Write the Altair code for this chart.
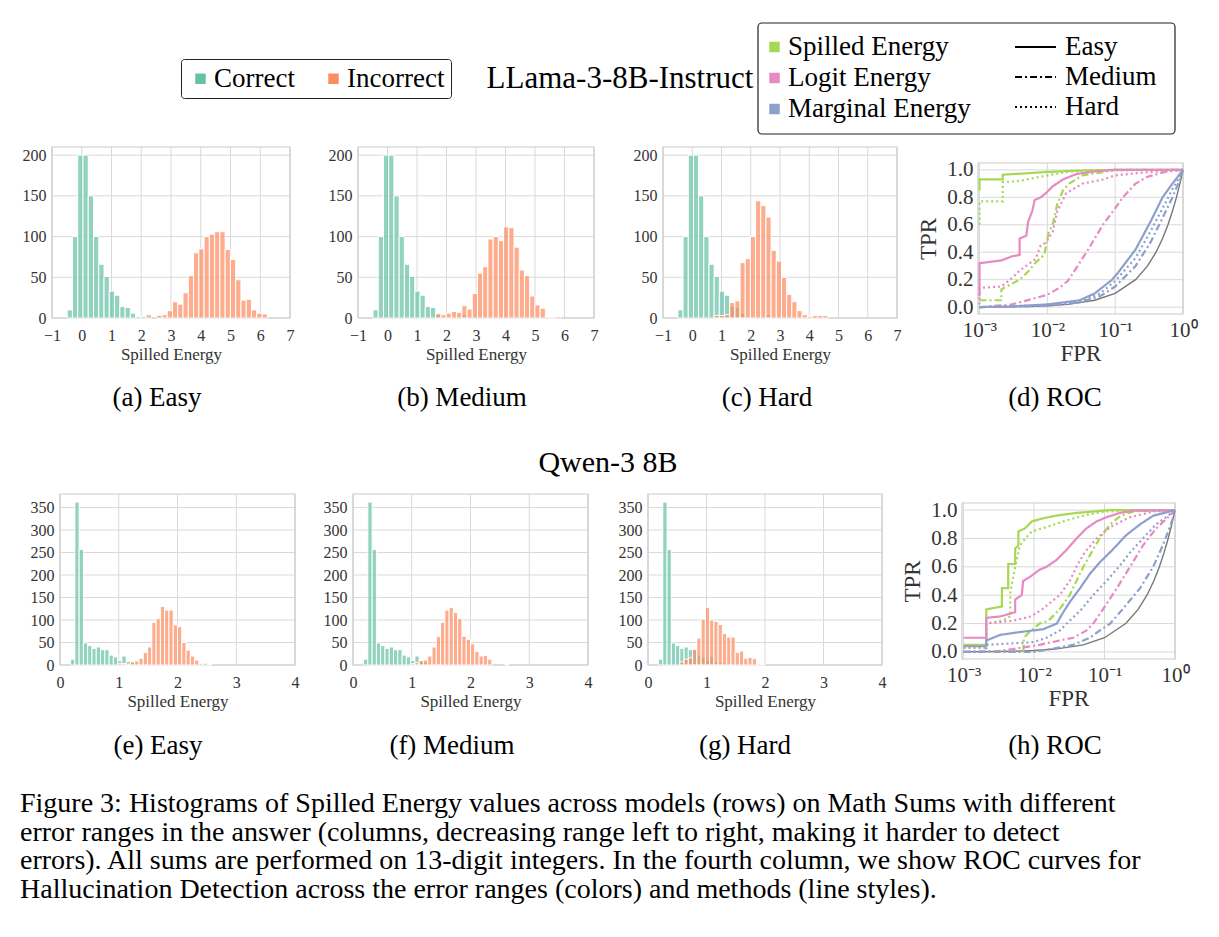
import altair as alt
import pandas as pd

SERIF = "Liberation Serif"
GREEN_HIST, ORANGE_HIST = "#66c2a5", "#fc8d62"
SPILLED_C, LOGIT_C, MARGINAL_C = "#a6d854", "#e78ac3", "#8da0cb"
GRID_C, FRAME_C, LABEL_C = "#d9d9d9", "#cccccc", "#333333"

# ---------------- histogram counts (shared bin grid per model) ----------------
LLAMA_BIN_START, LLAMA_BIN_WIDTH = -0.49, 0.177
QWEN_BIN_START, QWEN_BIN_WIDTH = 0.18, 0.0728

llama_correct = [10, 100, 200, 200, 150, 100, 66, 51, 33, 28, 14, 13, 6, 2, 2, 0, 0, 4]
llama_incorrect_easy = [0, 0, 0, 0, 0, 0, 0, 0, 0, 0, 0, 0, 0, 0, 0,
                        4, 0, 3, 4, 9, 20, 17, 31, 52, 80, 85, 100, 103, 106, 106,
                        84, 72, 47, 22, 23, 10, 6, 5]
llama_incorrect_medium = [0, 0, 0, 0, 0, 0, 0, 0, 0, 0, 0, 0,
                          5, 4, 6, 8, 7, 15, 11, 30, 55, 63, 97, 100, 95, 112, 111,
                          87, 59, 52, 27, 16, 12, 1, 1, 2]
llama_incorrect_hard = [0, 0, 0, 0, 0, 0, 0,
                        3, 3, 4, 19, 21, 68, 73, 100, 144, 138, 124, 83, 70, 50, 29,
                        20, 9, 4, 2, 3, 3, 3]

qwen_correct = [13, 362, 257, 49, 43, 37, 40, 34, 34, 22, 18, 10, 20, 8, 6, 4, 2, 1]
qwen_incorrect_easy = [0, 0, 0, 0, 0, 0, 0, 0, 0, 0, 0,
                       4, 3, 2, 7, 9, 15, 28, 40, 95, 103, 130, 122, 122, 89, 85,
                       50, 33, 20, 11, 3, 4, 1]
qwen_incorrect_medium = [0, 0, 0, 0, 0, 0, 0, 0, 0, 0, 0,
                         3, 5, 10, 11, 20, 40, 63, 95, 122, 128, 117, 103, 64, 57,
                         47, 30, 20, 21, 13, 0, 0, 0, 1]
qwen_incorrect_hard = [0, 0, 0, 0, 0,
                       7, 13, 16, 35, 60, 102, 128, 100, 97, 90, 70, 62, 62, 28, 31,
                       15, 17, 14, 2, 1]

LLAMA_X_TICKS = [-1, 0, 1, 2, 3, 4, 5, 6, 7]
LLAMA_Y_TICKS = [0, 50, 100, 150, 200]
QWEN_X_TICKS = [0, 1, 2, 3, 4]
QWEN_Y_TICKS = [0, 50, 100, 150, 200, 250, 300, 350]

# ---------------- ROC curves: (FPR, TPR) points ----------------
llama_spilled_easy = [(0.001, 0.85), (0.001, 0.93), (0.0022, 0.93), (0.0022, 0.965), (0.005, 0.975),
                      (0.01, 0.985), (0.03, 0.995), (0.1, 1.0), (1.0, 1.0)]
llama_spilled_medium = [(0.001, 0.05), (0.0021, 0.05), (0.0021, 0.13), (0.0039, 0.2), (0.005, 0.25),
                        (0.0069, 0.33), (0.009, 0.38), (0.0105, 0.55), (0.012, 0.6), (0.014, 0.75),
                        (0.017, 0.85), (0.021, 0.9), (0.033, 0.96), (0.06, 0.98), (0.1, 1.0), (1.0, 1.0)]
llama_spilled_hard = [(0.001, 0.6), (0.001, 0.77), (0.0022, 0.77), (0.0022, 0.91), (0.004, 0.92),
                      (0.01, 0.96), (0.02, 0.985), (0.05, 0.995), (1.0, 1.0)]
llama_logit_easy = [(0.001, 0.08), (0.001, 0.32), (0.0021, 0.34), (0.003, 0.37), (0.0039, 0.38),
                    (0.0039, 0.5), (0.0049, 0.52), (0.0052, 0.62), (0.006, 0.7), (0.0065, 0.78),
                    (0.008, 0.8), (0.0095, 0.83), (0.012, 0.88), (0.017, 0.93), (0.027, 0.97),
                    (0.053, 0.99), (0.1, 1.0), (1.0, 1.0)]
llama_logit_medium = [(0.001, 0.0), (0.003, 0.02), (0.006, 0.06), (0.01, 0.09), (0.015, 0.14),
                      (0.02, 0.19), (0.028, 0.3), (0.04, 0.42), (0.066, 0.6), (0.1, 0.72),
                      (0.13, 0.8), (0.2, 0.9), (0.3, 0.95), (0.6, 0.99), (1.0, 1.0)]
llama_logit_hard = [(0.001, 0.02), (0.001, 0.14), (0.0021, 0.15), (0.0028, 0.2), (0.004, 0.27),
                    (0.0067, 0.35), (0.008, 0.45), (0.0095, 0.47), (0.012, 0.55), (0.014, 0.7),
                    (0.019, 0.83), (0.033, 0.9), (0.066, 0.93), (0.1, 0.96), (0.26, 0.98), (1.0, 1.0)]
llama_marginal_easy = [(0.001, 0.0), (0.003, 0.005), (0.01, 0.02), (0.03, 0.05), (0.05, 0.1),
                       (0.09, 0.2), (0.11, 0.25), (0.2, 0.42), (0.33, 0.62), (0.5, 0.8),
                       (0.7, 0.9), (0.9, 0.97), (1.0, 1.0)]
llama_marginal_medium = [(0.001, 0.0), (0.01, 0.01), (0.03, 0.035), (0.06, 0.08), (0.1, 0.15),
                         (0.2, 0.3), (0.33, 0.47), (0.5, 0.65), (0.7, 0.8), (0.9, 0.93), (1.0, 1.0)]
llama_marginal_hard = [(0.001, 0.0), (0.01, 0.015), (0.03, 0.04), (0.06, 0.1), (0.1, 0.19),
                       (0.2, 0.36), (0.33, 0.55), (0.5, 0.72), (0.7, 0.86), (0.9, 0.95), (1.0, 1.0)]

qwen_spilled_easy = [(0.001, 0.05), (0.0021, 0.05), (0.0021, 0.3), (0.0035, 0.32), (0.0035, 0.45),
                     (0.0043, 0.45), (0.0043, 0.62), (0.0054, 0.62), (0.0054, 0.73), (0.006, 0.75),
                     (0.006, 0.85), (0.0074, 0.87), (0.0093, 0.92), (0.013, 0.94), (0.02, 0.96),
                     (0.04, 0.98), (0.07, 0.99), (0.12, 1.0), (1.0, 1.0)]
qwen_spilled_medium = [(0.001, 0.0), (0.007, 0.0), (0.0072, 0.1), (0.009, 0.15), (0.012, 0.2),
                       (0.016, 0.22), (0.023, 0.3), (0.032, 0.4), (0.04, 0.5), (0.05, 0.6),
                       (0.065, 0.7), (0.085, 0.8), (0.12, 0.9), (0.17, 0.96), (0.26, 0.99),
                       (0.5, 1.0), (1.0, 1.0)]
qwen_spilled_hard = [(0.001, 0.03), (0.0021, 0.03), (0.0021, 0.2), (0.0035, 0.22), (0.0046, 0.25),
                     (0.0046, 0.42), (0.0054, 0.6), (0.0063, 0.75), (0.0075, 0.8), (0.0093, 0.85),
                     (0.015, 0.88), (0.03, 0.93), (0.06, 0.97), (0.1, 0.99), (1.0, 1.0)]
qwen_logit_easy = [(0.001, 0.1), (0.0021, 0.1), (0.0021, 0.24), (0.0033, 0.25), (0.0054, 0.28),
                   (0.0054, 0.37), (0.0067, 0.4), (0.007, 0.5), (0.0088, 0.53), (0.012, 0.58),
                   (0.015, 0.6), (0.021, 0.65), (0.029, 0.72), (0.04, 0.8), (0.055, 0.87),
                   (0.077, 0.92), (0.107, 0.95), (0.165, 0.98), (0.25, 0.995), (1.0, 1.0)]
qwen_logit_medium = [(0.001, 0.0), (0.003, 0.005), (0.005, 0.02), (0.012, 0.05), (0.023, 0.08),
                     (0.036, 0.1), (0.055, 0.15), (0.069, 0.2), (0.095, 0.3), (0.15, 0.45),
                     (0.23, 0.6), (0.35, 0.75), (0.54, 0.87), (0.8, 0.95), (1.0, 1.0)]
qwen_logit_hard = [(0.001, 0.03), (0.0021, 0.03), (0.0021, 0.2), (0.005, 0.22), (0.009, 0.25),
                   (0.013, 0.3), (0.023, 0.4), (0.032, 0.5), (0.04, 0.6), (0.052, 0.7),
                   (0.077, 0.8), (0.12, 0.88), (0.23, 0.95), (0.5, 0.99), (1.0, 1.0)]
qwen_marginal_easy = [(0.001, 0.04), (0.0021, 0.04), (0.0021, 0.08), (0.0033, 0.12), (0.0063, 0.14),
                      (0.0135, 0.16), (0.021, 0.2), (0.026, 0.28), (0.032, 0.35), (0.045, 0.45),
                      (0.062, 0.55), (0.085, 0.63), (0.13, 0.72), (0.2, 0.82), (0.32, 0.9),
                      (0.49, 0.96), (1.0, 1.0)]
qwen_marginal_medium = [(0.001, 0.0), (0.01, 0.0), (0.017, 0.02), (0.036, 0.05), (0.062, 0.1),
                        (0.085, 0.15), (0.12, 0.2), (0.18, 0.3), (0.32, 0.45), (0.49, 0.6),
                        (0.67, 0.75), (0.8, 0.85), (0.9, 0.92), (1.0, 1.0)]
qwen_marginal_hard = [(0.001, 0.0), (0.0021, 0.0), (0.0021, 0.05), (0.005, 0.06), (0.01, 0.07),
                      (0.015, 0.1), (0.023, 0.15), (0.032, 0.22), (0.047, 0.3), (0.069, 0.4),
                      (0.107, 0.5), (0.16, 0.6), (0.23, 0.7), (0.35, 0.8), (0.54, 0.9),
                      (0.75, 0.95), (1.0, 1.0)]

chance_fpr = [0.001, 0.002, 0.005, 0.01, 0.02, 0.05, 0.1, 0.2, 0.3, 0.4, 0.5, 0.6, 0.7, 0.8, 0.9, 1.0]
chance_tpr = [0.001, 0.002, 0.005, 0.01, 0.02, 0.05, 0.1, 0.2, 0.3, 0.4, 0.5, 0.6, 0.7, 0.8, 0.9, 1.0]

METHODS = ["Spilled Energy", "Logit Energy", "Marginal Energy"]
LEVELS = ["Easy", "Medium", "Hard"]
ROC_X_TICKS = [0.001, 0.01, 0.1, 1.0]
ROC_Y_TICKS = [0.0, 0.2, 0.4, 0.6, 0.8, 1.0]
ROC_X_DOMAIN = [0.00095, 1.0]
ROC_Y_DOMAIN = [-0.05, 1.05]

caption_lines = [
    "Figure 3: Histograms of Spilled Energy values across models (rows) on Math Sums with different",
    "error ranges in the answer (columns, decreasing range left to right, making it harder to detect",
    "errors). All sums are performed on 13-digit integers. In the fourth column, we show ROC curves for",
    "Hallucination Detection across the error ranges (colors) and methods (line styles).",
]

# ---------------- layout: uniform grid cells, plot inset inside each cell ----------------
CELL_W, CELL_H, CELL_GAP = 265, 312, 35
TEXT_SIZE = 27
TICK_SIZE = 16

one = pd.DataFrame({"k": [0]})

fill_legend = alt.Legend(
    orient="none", legendX=141, legendY=-88, direction="horizontal", title=None,
    symbolType="square", symbolSize=110, symbolStrokeWidth=0, labelFont=SERIF,
    labelFontSize=TEXT_SIZE, labelColor="black", labelOffset=0, columnPadding=25,
    padding=6, strokeColor="#222222", cornerRadius=3, labelLimit=400,
)
stroke_legend = alt.Legend(
    orient="none", legendX=721, legendY=-113.5, direction="vertical", title=None,
    symbolType="square", symbolSize=30, symbolStrokeWidth=5, labelFont=SERIF,
    labelFontSize=TEXT_SIZE, labelColor="black", labelOffset=0, rowPadding=3, labelLimit=400,
)
# a horizontal line sample wider than its nominal symbol box keeps the rows compact
dash_legend = alt.Legend(
    orient="none", legendX=979, legendY=-116.5, direction="vertical", title=None,
    symbolType="M-1.32,0H1.32", symbolSize=961, symbolStrokeColor="black", symbolStrokeWidth=2,
    labelFont=SERIF, labelFontSize=TEXT_SIZE, labelColor="black", labelOffset=13,
    rowPadding=0, labelLimit=400,
)


def text_layer(text, x, y, size=TEXT_SIZE, align="center", baseline="middle", line_height=None):
    kw = dict(text=text, font=SERIF, fontSize=size, align=align, baseline=baseline, color="black")
    if line_height is not None:
        kw["lineHeight"] = line_height
    return alt.Chart(one).mark_text(**kw).encode(x=alt.value(x), y=alt.value(y))


def frame_and_grid(xscale, yscale, xaxis, yaxis, xdom, ydom, xgrid, ygrid):
    rows = [{"x": v, "x2": v, "y": ydom[0], "y2": ydom[1]} for v in xgrid]
    rows += [{"x": xdom[0], "x2": xdom[1], "y": v, "y2": v} for v in ygrid]
    grid = alt.Chart(pd.DataFrame(rows)).mark_rule(color=GRID_C, strokeWidth=1).encode(
        x=alt.X("x:Q", scale=xscale, axis=xaxis), x2="x2:Q",
        y=alt.Y("y:Q", scale=yscale, axis=yaxis), y2="y2:Q",
    )
    box_df = pd.DataFrame([{"x": xdom[0], "x2": xdom[1], "y": ydom[0], "y2": ydom[1]}])
    box = alt.Chart(box_df).mark_rect(fillOpacity=0, stroke=FRAME_C, strokeWidth=1.2).encode(
        x=alt.X("x:Q", scale=xscale, axis=xaxis), x2="x2:Q",
        y=alt.Y("y:Q", scale=yscale, axis=yaxis), y2="y2:Q",
    )
    return grid, box


def hist_panel(correct, incorrect, start, width, xdom, ydom, xticks, yticks,
               left, plot_w, plot_h, caption, cap_x, cap_y, extra=()):
    rows = []
    for label, counts in (("Correct", correct), ("Incorrect", incorrect)):
        for k, c in enumerate(counts):
            if c > 0:
                rows.append({"lo": start + k * width, "hi": start + (k + 1) * width,
                             "count": c, "base": 0, "outcome": label})
    df = pd.DataFrame(rows)
    xscale = alt.Scale(domain=xdom, range=[left, left + plot_w], nice=False, zero=False)
    yscale = alt.Scale(domain=ydom, range=[plot_h, 0], nice=False, zero=False)
    xaxis = alt.Axis(title="Spilled Energy", values=xticks, format="d", offset=-(CELL_H - plot_h),
                     labelFontSize=TICK_SIZE, titleFontSize=17, labelPadding=9, titlePadding=3,
                     labelFlush=False, labelOverlap=False)
    yaxis = alt.Axis(title=None, values=yticks, format="d", offset=-left,
                     labelFontSize=TICK_SIZE, labelPadding=6, labelOverlap=False)
    grid, box = frame_and_grid(xscale, yscale, xaxis, yaxis, xdom, ydom, xticks, yticks)
    bars = alt.Chart(df).mark_rect(fillOpacity=0.72, stroke="white", strokeWidth=1).encode(
        x=alt.X("lo:Q", scale=xscale, axis=xaxis), x2="hi:Q",
        y=alt.Y("count:Q", scale=yscale, axis=yaxis), y2="base:Q",
        fill=alt.Fill("outcome:N", scale=alt.Scale(domain=["Correct", "Incorrect"],
                                                   range=[GREEN_HIST, ORANGE_HIST]),
                      legend=fill_legend),
    )
    layers = [grid, box, bars, text_layer(caption, cap_x, cap_y)] + list(extra)
    return alt.layer(*layers).properties(width=CELL_W, height=CELL_H)


def roc_panel(curves, left, top, plot_w, plot_h, caption, cap_x, cap_y):
    rows = []
    for (method, level), pts in curves:
        for k, (f, t) in enumerate(pts):
            rows.append({"fpr": f, "tpr": t, "method": method, "level": level, "k": k})
    df = pd.DataFrame(rows)
    chance = pd.DataFrame({"fpr": chance_fpr, "tpr": chance_tpr})
    xscale = alt.Scale(type="log", domain=ROC_X_DOMAIN, range=[left, left + plot_w], nice=False)
    yscale = alt.Scale(domain=ROC_Y_DOMAIN, range=[top + plot_h, top], nice=False, zero=False)
    label_expr = ("datum.value < 0.005 ? '10⁻³' : datum.value < 0.05 ? '10⁻²' : "
                  "datum.value < 0.5 ? '10⁻¹' : '10⁰'")
    xaxis = alt.Axis(title="FPR", values=ROC_X_TICKS, labelExpr=label_expr,
                     offset=-(CELL_H - top - plot_h), labelFontSize=21, titleFontSize=23,
                     labelPadding=5, titlePadding=2, labelFlush=False, labelOverlap=False)
    yaxis = alt.Axis(title="TPR", values=ROC_Y_TICKS, format=".1f", offset=-left,
                     labelFontSize=21, titleFontSize=23, labelPadding=5, titlePadding=6,
                     labelOverlap=False)
    grid, box = frame_and_grid(xscale, yscale, xaxis, yaxis, ROC_X_DOMAIN, ROC_Y_DOMAIN,
                               ROC_X_TICKS, ROC_Y_TICKS)
    base_line = alt.Chart(chance).mark_line(color="#777777", strokeWidth=1.4).encode(
        x=alt.X("fpr:Q", scale=xscale, axis=xaxis),
        y=alt.Y("tpr:Q", scale=yscale, axis=yaxis),
    )
    lines = alt.Chart(df).mark_line(strokeWidth=2.2).encode(
        x=alt.X("fpr:Q", scale=xscale, axis=xaxis),
        y=alt.Y("tpr:Q", scale=yscale, axis=yaxis),
        stroke=alt.Stroke("method:N", scale=alt.Scale(domain=METHODS,
                                                      range=[SPILLED_C, LOGIT_C, MARGINAL_C]),
                          legend=stroke_legend),
        strokeDash=alt.StrokeDash("level:N", scale=alt.Scale(domain=LEVELS,
                                                            range=[[1, 0], [7, 3, 2, 3], [2, 3]]),
                                  legend=dash_legend),
        order=alt.Order("k:Q"),
    )
    return alt.layer(grid, box, base_line, lines, text_layer(caption, cap_x, cap_y)).properties(
        width=CELL_W, height=CELL_H)


llama_curves = [
    (("Spilled Energy", "Easy"), llama_spilled_easy),
    (("Spilled Energy", "Medium"), llama_spilled_medium),
    (("Spilled Energy", "Hard"), llama_spilled_hard),
    (("Logit Energy", "Easy"), llama_logit_easy),
    (("Logit Energy", "Medium"), llama_logit_medium),
    (("Logit Energy", "Hard"), llama_logit_hard),
    (("Marginal Energy", "Easy"), llama_marginal_easy),
    (("Marginal Energy", "Medium"), llama_marginal_medium),
    (("Marginal Energy", "Hard"), llama_marginal_hard),
]
qwen_curves = [
    (("Spilled Energy", "Easy"), qwen_spilled_easy),
    (("Spilled Energy", "Medium"), qwen_spilled_medium),
    (("Spilled Energy", "Hard"), qwen_spilled_hard),
    (("Logit Energy", "Easy"), qwen_logit_easy),
    (("Logit Energy", "Medium"), qwen_logit_medium),
    (("Logit Energy", "Hard"), qwen_logit_hard),
    (("Marginal Energy", "Easy"), qwen_marginal_easy),
    (("Marginal Energy", "Medium"), qwen_marginal_medium),
    (("Marginal Energy", "Hard"), qwen_marginal_hard),
]

# figure-level annotations live in the first panel's coordinate frame
header = [
    text_layer("LLama-3-8B-Instruct", 580, -68, size=31),
    alt.Chart(one).mark_rect(fillOpacity=0, stroke="#222222", strokeWidth=1.2, cornerRadius=4).encode(
        x=alt.value(718), x2=alt.value(1135), y=alt.value(-124), y2=alt.value(-13)),
    text_layer("Qwen-3 8B", 568, 316, size=30),
    text_layer(caption_lines, -20, 665, size=28, align="left", baseline="alphabetic", line_height=28.5),
]

LL = dict(start=LLAMA_BIN_START, width=LLAMA_BIN_WIDTH, xdom=[-1, 7], ydom=[0, 210],
          xticks=LLAMA_X_TICKS, yticks=LLAMA_Y_TICKS, plot_h=171)
QW = dict(start=QWEN_BIN_START, width=QWEN_BIN_WIDTH, xdom=[0, 4], ydom=[0, 380],
          xticks=QWEN_X_TICKS, yticks=QWEN_Y_TICKS, plot_h=171)

panels = [
    hist_panel(llama_correct, llama_incorrect_easy, left=12, plot_w=238,
               caption="(a) Easy", cap_x=117, cap_y=251, extra=header, **LL),
    hist_panel(llama_correct, llama_incorrect_medium, left=18, plot_w=236,
               caption="(b) Medium", cap_x=122, cap_y=251, **LL),
    hist_panel(llama_correct, llama_incorrect_hard, left=23, plot_w=234,
               caption="(c) Hard", cap_x=127, cap_y=251, **LL),
    roc_panel(llama_curves, left=38, top=16, plot_w=205, plot_h=151,
              caption="(d) ROC", cap_x=115, cap_y=251),
    hist_panel(qwen_correct, qwen_incorrect_easy, left=20, plot_w=235,
               caption="(e) Easy", cap_x=118, cap_y=252, **QW),
    hist_panel(qwen_correct, qwen_incorrect_medium, left=13, plot_w=235,
               caption="(f) Medium", cap_x=112, cap_y=252, **QW),
    hist_panel(qwen_correct, qwen_incorrect_hard, left=8, plot_w=234,
               caption="(g) Hard", cap_x=105, cap_y=252, **QW),
    roc_panel(qwen_curves, left=22, top=9, plot_w=213, plot_h=156,
              caption="(h) ROC", cap_x=115, cap_y=252),
]

chart = (
    alt.concat(*panels, columns=4, spacing=CELL_GAP, bounds="flush")
    .properties(padding={"left": 20, "top": 22, "right": 5, "bottom": 10})
    .configure(font=SERIF)
    .configure_view(stroke=None)
    .configure_axis(labelFont=SERIF, titleFont=SERIF, labelColor=LABEL_C, titleColor=LABEL_C,
                    titleFontWeight="normal", grid=False, ticks=False, domain=False)
)

chart.save("out.html", embed_options={"renderer": "svg", "actions": False})
